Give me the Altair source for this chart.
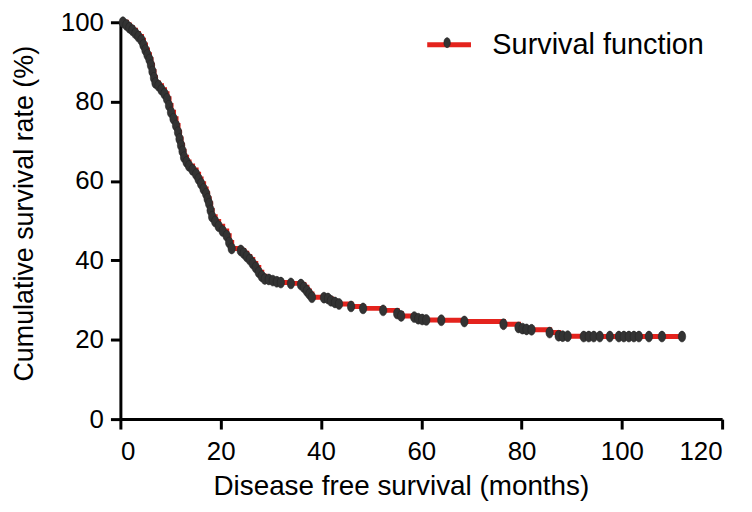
import altair as alt
import pandas as pd

# Kaplan-Meier style curve (months, %)
times = [0, 0.5, 1.2, 1.8, 2.4, 3.0, 3.6, 4.2, 4.6, 5.0, 5.4, 5.8, 6.1, 6.4, 6.7, 7.0,
         7.6, 8.2, 8.8, 9.3, 9.7, 10.1, 10.6, 11.1, 11.5, 11.8, 12.1, 12.4, 12.7, 13.2,
         13.7, 14.4, 15.1, 15.6, 16.1, 16.6, 17.1, 17.4, 17.7, 18.0, 18.3, 18.9, 19.6,
         20.4, 21.2, 21.7, 22.2, 24.0, 24.6, 25.2, 25.8, 26.4, 27.0, 27.6, 28.2, 28.8,
         29.6, 30.4, 31.2, 32.0, 34.0, 36.0, 36.6, 37.2, 37.7, 38.2, 40.6, 41.4, 42.0,
         42.8, 43.6, 46.0, 48.4, 52.4, 55.2, 56.0, 58.6, 59.4, 60.2, 61.0, 64.0, 68.6,
         76.4, 79.4, 80.2, 81.0, 82.0, 85.6, 87.4, 88.2, 89.2, 92.4, 93.4, 94.4, 95.6,
         97.6, 99.4, 100.4, 101.4, 102.4, 103.4, 105.4, 108.0, 112.0]
survival = [100, 100, 99.3, 98.6, 98.0, 97.2, 96.4, 95.5, 94.3, 93.0, 91.8, 90.6, 89.2,
            87.6, 86.0, 84.7, 84.0, 83.0, 82.0, 80.7, 79.0, 77.3, 75.7, 74.0, 72.3, 70.6,
            69.0, 67.5, 66.0, 64.8, 63.8, 62.8, 61.7, 60.5, 59.3, 58.0, 56.8, 55.5, 54.3,
            52.6, 51.0, 49.8, 48.6, 47.4, 46.2, 44.5, 43.0, 42.5, 41.8, 41.0, 40.2, 39.2,
            38.2, 37.0, 36.0, 35.3, 35.2, 34.9, 34.6, 34.4, 34.2, 33.9, 33.2, 32.3, 31.5,
            30.7, 30.6, 30.4, 29.8, 29.4, 29.0, 28.4, 27.9, 27.4, 26.6, 26.0, 25.7, 25.3,
            25.1, 25.0, 24.9, 24.6, 23.9, 23.1, 22.8, 22.6, 22.5, 21.8, 21.0, 20.9, 20.9,
            20.8, 20.8, 20.8, 20.8, 20.8, 20.8, 20.8, 20.8, 20.8, 20.8, 20.8, 20.8, 20.8]

x_ticks = [0, 20, 40, 60, 80, 100, 120]
y_ticks = [0, 20, 40, 60, 80, 100]
series_name = "Survival function"
marker_name = "censored"

df = pd.DataFrame({"t": times, "s": survival})
df["series"] = series_name
df["mk"] = marker_name

RED = "#e4231d"
DARK = "#333333"
FONT = "Liberation Sans"

ellipse_data = "M0,-1 A0.68,1 0 1,1 0,1 A0.68,1 0 1,1 0,-1 Z"
ellipse_legend = "M0,-0.23 A0.15,0.23 0 1,1 0,0.23 A0.15,0.23 0 1,1 0,-0.23 Z"

xenc = alt.X("t:Q", scale=alt.Scale(domain=[0, 120], nice=False, zero=True),
             axis=alt.Axis(values=x_ticks, title="Disease free survival (months)",
                           titleX=282, titleY=54, titleAlign="center", labelPadding=10))
yenc = alt.Y("s:Q", scale=alt.Scale(domain=[0, 100], nice=False),
             axis=alt.Axis(values=y_ticks, title="Cumulative survival rate (%)",
                           titleX=-82, titleY=192, titleAlign="center", titleAngle=270,
                           titleBaseline="bottom", titleFontSize=27, labelPadding=7))

legend_common = dict(title=None, orient="none", legendX=306, legendY=-2,
                     symbolSize=1936, labelFontSize=29, labelFont=FONT,
                     labelOffset=19, labelLimit=0, padding=0)

line = alt.Chart(df).mark_line(interpolate="step-after", strokeWidth=5).encode(
    x=xenc, y=yenc,
    color=alt.Color("series:N", scale=alt.Scale(domain=[series_name], range=[RED]),
                    legend=alt.Legend(symbolType="M-1,0L1,0", symbolStrokeWidth=5,
                                      labelColor="black", **legend_common)),
)

points = alt.Chart(df).transform_filter("datum.t > 0").mark_point(
    filled=True, shape=ellipse_data, size=121, opacity=1,
    stroke="#222222", strokeWidth=0.5).encode(
    x="t:Q", y="s:Q",
    fill=alt.Fill("mk:N", scale=alt.Scale(domain=[marker_name], range=[DARK]),
                  legend=alt.Legend(symbolType=ellipse_legend, symbolFillColor=DARK,
                                    symbolStrokeColor="#222222", symbolStrokeWidth=0.5,
                                    symbolOpacity=1, labelExpr="''",
                                    **legend_common)),
)

chart = alt.layer(line, points).properties(
    width=605, height=399,
    autosize=alt.AutoSizeParams(type="none"),
    padding={"left": 113, "top": 13, "right": 22, "bottom": 81},
).configure_view(stroke=None).configure_axis(
    grid=False, domainColor="black", domainWidth=3, tickColor="black", tickWidth=3,
    tickSize=10, labelFont=FONT, labelFontSize=26, labelColor="black",
    titleFont=FONT, titleFontSize=28, titleFontWeight="normal", titleColor="black",
)

chart.save("out.html", embed_options={"renderer": "svg", "actions": False})
